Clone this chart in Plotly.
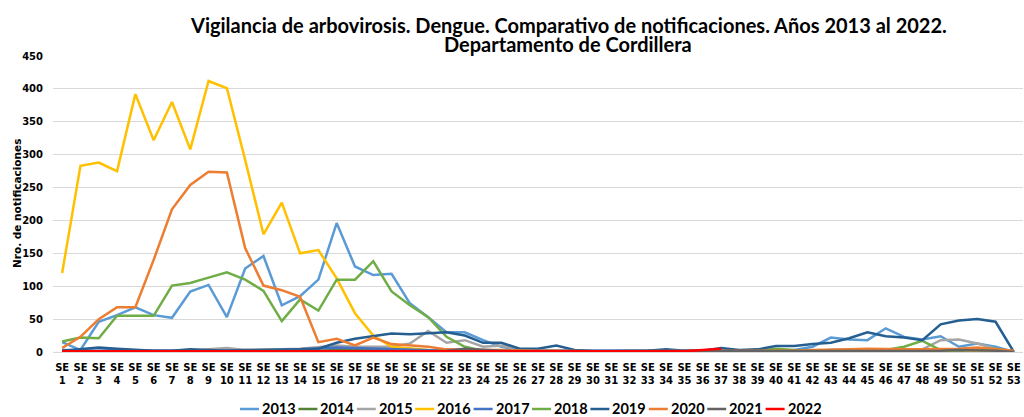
import plotly.graph_objects as go

weeks = [f"SE<br>{i}" for i in range(1, 54)]

y2013 = [15,3,46,56,68,56,52,92,102,53,127,146,71,85,110,196,130,117,119,74,53,30,30,18,8,3,2,2,2,1,1,2,1,1,1,1,2,1,1,2,3,8,22,19,18,36,23,19,24,8,13,8,0]
y2014 = [2,1,1,1,1,1,1,1,1,2,1,1,2,2,2,3,3,2,2,2,1,1,1,1,1,1,1,1,1,1,0,0,0,1,0,0,1,1,1,2,1,1,1,1,1,1,1,1,1,1,1,1,0]
y2015 = [1,1,1,2,2,2,2,2,4,6,3,3,4,5,8,10,8,8,8,13,32,14,18,8,10,3,2,2,1,1,1,1,1,1,1,1,1,1,1,2,2,2,2,2,2,2,3,4,18,19,13,5,0]
y2016 = [120,283,288,275,392,322,380,308,412,401,292,179,227,150,155,112,59,25,8,5,3,2,2,1,1,1,1,1,0,0,0,0,0,0,0,0,0,0,0,0,0,0,0,0,0,0,0,0,0,0,0,0,0]
y2017 = [3,2,2,3,2,2,2,2,3,2,3,3,3,4,5,7,6,5,4,3,3,2,2,2,2,2,2,2,2,1,1,1,1,1,1,1,1,1,1,2,2,2,3,3,3,3,3,3,3,3,3,3,0]
y2018 = [16,22,21,55,55,55,101,105,113,121,110,93,47,80,63,110,110,138,92,71,53,23,8,2,1,1,1,1,1,1,0,0,0,0,0,0,0,1,2,5,3,2,2,2,2,3,8,17,3,2,5,5,0]
y2019 = [2,5,7,5,3,2,2,4,3,2,3,3,4,4,5,14,20,24,28,27,28,30,25,14,14,5,5,10,3,1,1,1,2,4,2,2,6,3,4,9,9,12,14,21,30,24,22,18,42,48,50,46,0]
y2020 = [6,23,50,68,68,140,217,254,274,273,158,101,94,84,15,20,10,22,12,10,8,4,3,3,3,2,2,2,1,1,1,1,1,1,1,1,1,1,1,2,2,3,3,4,5,4,4,4,4,5,7,4,2]
y2021 = [1,1,1,1,1,1,1,1,1,1,1,1,1,1,1,1,1,1,1,1,1,2,5,3,2,1,1,1,1,1,1,1,1,1,1,1,1,1,1,1,1,1,1,1,1,1,1,1,2,3,3,2,0]
y2022 = [1,1,1,1,1,1,1,1,1,1,1,1,1,1,1,1,1,1,1,1,1,1,1,1,1,1,1,1,1,1,1,1,1,2,1,3,5] + [None]*16

years = ["2013", "2014", "2015", "2016", "2017", "2018", "2019", "2020", "2021", "2022"]
values = [y2013, y2014, y2015, y2016, y2017, y2018, y2019, y2020, y2021, y2022]
colors = ["#5B9BD5", "#548235", "#A5A5A5", "#FFC000", "#4472C4",
          "#70AD47", "#255E91", "#ED7D31", "#636363", "#FF0000"]

title_line1 = "Vigilancia de arbovirosis. Dengue. Comparativo de notificaciones. Años 2013 al 2022."
title_line2 = "Departamento de Cordillera"
ytitle = "Nro. de notificaciones"

# layout geometry (pixels)
W, H = 1024, 417
L, R, T, B = 53, 1, 56, 65
PW, PH = W - L - R, H - T - B

def px_x(px):
    return (px - L) / PW

def px_y(py):
    return (H - B - py) / PH

fig = go.Figure()
for name, vals, col in zip(years, values, colors):
    fig.add_trace(go.Scatter(x=weeks, y=vals, name=name, mode="lines",
                             line=dict(color=col, width=2.5)))

title_font = "Lato, Liberation Sans, sans-serif"
axis_family = "DejaVu Sans, Verdana, sans-serif"
tick_font = dict(family=axis_family, size=10, color="#000000", weight="bold")

annotations = [
    dict(text=f"<b>{title_line1}</b>", x=px_x(568), y=px_y(24.5), xref="paper", yref="paper",
         xanchor="center", yanchor="middle", showarrow=False,
         font=dict(family=title_font, size=20, color="#000000")),
    dict(text=f"<b>{title_line2}</b>", x=px_x(568), y=px_y(44), xref="paper", yref="paper",
         xanchor="center", yanchor="middle", showarrow=False,
         font=dict(family=title_font, size=20, color="#000000")),
    dict(text=f"<b>{ytitle}</b>", x=px_x(17), y=px_y(204), xref="paper", yref="paper",
         xanchor="center", yanchor="middle", showarrow=False, textangle=-90,
         font=dict(family=axis_family, size=10.5, color="#000000")),
]
shapes = []
start0, pitch = 240, 58.4
for i, (name, col) in enumerate(zip(years, colors)):
    s = start0 + i * pitch
    shapes.append(dict(type="line", xref="paper", yref="paper",
                       x0=px_x(s), x1=px_x(s + 19), y0=px_y(409), y1=px_y(409),
                       line=dict(color=col, width=2.5)))
    annotations.append(dict(text=f"<b>{name}</b>", x=px_x(s + 20), y=px_y(408.5),
                            xref="paper", yref="paper", xanchor="left", yanchor="middle",
                            showarrow=False, font=dict(family=title_font, size=14.5, color="#000000")))

fig.update_layout(
    width=W, height=H,
    margin=dict(l=L, r=R, t=T, b=B, autoexpand=False),
    paper_bgcolor="white", plot_bgcolor="white",
    showlegend=False,
    annotations=annotations,
    shapes=shapes,
    xaxis=dict(type="category", range=[-0.5, 52.5], showgrid=False, showline=False,
               ticks="", tickangle=0, automargin=False, ticklabelstandoff=8,
               tickfont=tick_font),
    yaxis=dict(range=[0, 450], dtick=50, showgrid=True, gridcolor="#D9D9D9", gridwidth=1,
               zeroline=True, zerolinecolor="#D9D9D9", zerolinewidth=1, showline=False,
               ticks="", automargin=False, ticklabelstandoff=9,
               tickfont=tick_font),
)

fig.write_html("out.html", config={"displayModeBar": False},
               post_script="document.body.style.margin='0';document.body.style.overflow='hidden';")
